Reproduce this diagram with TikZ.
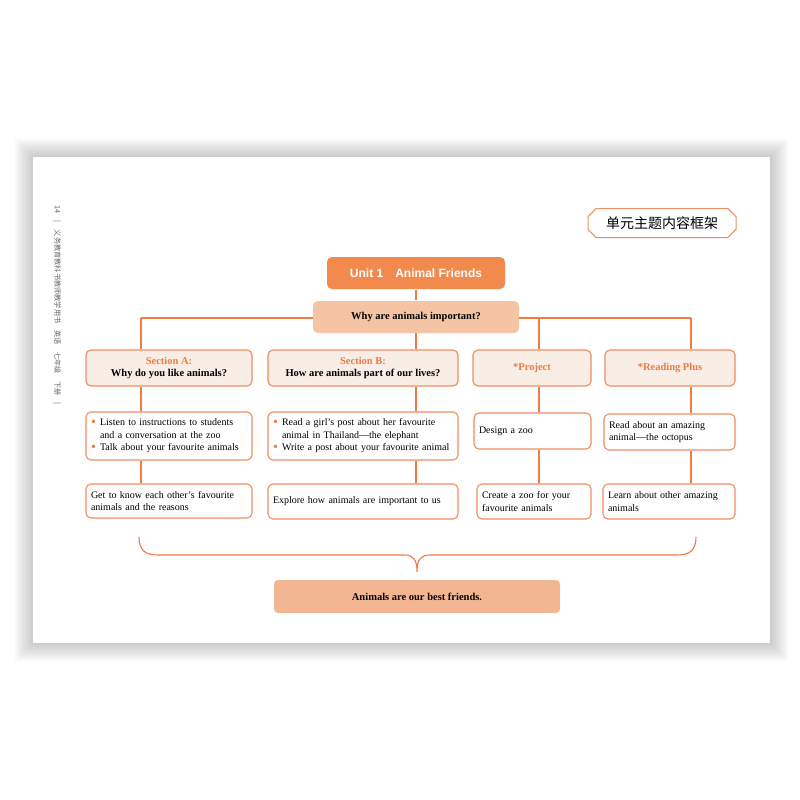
\documentclass[tikz,border=0pt]{standalone}
\usepackage{fontspec}
\setmainfont{Liberation Serif}
\newfontfamily\headfont{Liberation Sans}
\newfontfamily\zhfont{Noto Sans CJK SC}
\usepackage{xcolor}
\usetikzlibrary{shapes.misc, backgrounds, calc}

\definecolor{linec}{HTML}{EF7B45}
\definecolor{bordc}{HTML}{F08D5E}
\definecolor{unitfill}{HTML}{F28A4E}
\definecolor{whyfill}{HTML}{F5C4A5}
\definecolor{secfill}{HTML}{F8EEE6}
\definecolor{bestfill}{HTML}{F3B693}

\newcommand{\bul}{\makebox[9pt][l]{\textcolor{linec}{\raisebox{-0.7pt}{\fontsize{14}{0}\selectfont\textbullet}}}}
\newcommand{\ind}{\hspace*{9pt}}

\begin{document}
\begin{tikzpicture}[x=1pt, y=-1pt, line width=1.1pt,
    secbox/.style={draw=bordc, fill=secfill, rounded corners=5pt, minimum width=#1,
        minimum height=36pt, inner sep=0pt, align=center,
        font=\fontsize{10.5}{12.5}\selectfont\bfseries},
    itembox/.style={draw=bordc, fill=white, rounded corners=5pt, text width=#1,
        inner xsep=5pt, inner ysep=0pt, align=left,
        font=\fontsize{10}{12.5}\selectfont},
    link/.style={draw=linec, line width=1.1pt}]

    \useasboundingbox (0,0) rectangle (800,800);

    % running head
    \node[rotate=-90, anchor=west, text=black!60, inner sep=0pt] (running) at (57,205)
          {\zhfont\fontsize{7.2}{8}\selectfont 14\quad |\quad 义务教育教科书教师教学用书\quad 英语\quad 七年级\quad 下册\quad |};

    % title
    \node[chamfered rectangle, chamfered rectangle xsep=5pt, draw=bordc, line width=1pt,
          minimum width=148pt, minimum height=29pt, inner sep=0pt] (title) at (662,223)
          {\zhfont\fontsize{14}{16}\selectfont 单元主题内容框架};

    % ==========================================
    % Top boxes
    % ==========================================
    \node[fill=unitfill, rounded corners=5pt, minimum width=178pt, minimum height=32pt,
          text=white, font=\headfont\fontsize{12}{14}\selectfont\bfseries] (unit) at (416,273)
          {Unit 1\quad Animal Friends};
    \node[fill=whyfill, rounded corners=5pt, minimum width=206pt, minimum height=32pt,
          font=\fontsize{10.5}{12.5}\selectfont\bfseries] (why) at (416,317)
          {Why are animals important?};

    % ==========================================
    % Sections
    % ==========================================
    \node[secbox=166pt] (secA) at (169,368) {\textcolor{linec}{Section A:}\\ Why do you like animals?};
    \node[secbox=190pt] (secB) at (363,368) {\textcolor{linec}{Section B:}\\ How are animals part of our lives?};
    \node[secbox=118pt] (secP) at (532,368) {\textcolor{linec}{*Project}};
    \node[secbox=130pt] (secR) at (670,368) {\textcolor{linec}{*Reading Plus}};

    % first row
    \node[itembox=156pt, minimum height=48pt] (itemA1) at (169,436)
        {\bul Listen to instructions to students\\ \ind and a conversation at the zoo\\ \bul Talk about your favourite animals};
    \node[itembox=180pt, minimum height=48pt] (itemB1) at (363,436)
        {\bul Read a girl’s post about her favourite\\ \ind animal in Thailand—the elephant\\ \bul Write a post about your favourite animal};
    \node[itembox=107pt, minimum height=36pt] (itemP1) at (532.5,431) {Design a zoo};
    \node[itembox=121pt, minimum height=36pt] (itemR1) at (669.5,432)
        {Read about an amazing\\ animal—the octopus};

    % second row
    \node[itembox=156pt, minimum height=34pt] (itemA2) at (169,501)
        {Get to know each other’s favourite\\ animals and the reasons};
    \node[itembox=180pt, minimum height=35pt] (itemB2) at (363,501.5)
        {Explore how animals are important to us};
    \node[itembox=104pt, minimum height=35pt] (itemP2) at (534,501.5)
        {Create a zoo for your\\ favourite animals};
    \node[itembox=122pt, minimum height=35pt] (itemR2) at (669,501.5)
        {Learn about other amazing\\ animals};

    % conclusion
    \node[fill=bestfill, rounded corners=4pt, minimum width=286pt, minimum height=33pt,
          font=\fontsize{10.5}{12.5}\selectfont\bfseries] (best) at (417,596.5)
          {Animals are our best friends.};

    % ==========================================
    % Page, shadow and connectors (behind the boxes)
    % ==========================================
    \coordinate (jA) at (141,318);
    \coordinate (jB) at (416,318);
    \coordinate (jP) at (539,318);
    \coordinate (jR) at (691,318);

    \begin{pgfonlayer}{background}
        \foreach \i in {1,...,9} {
            \fill[black, opacity=0.025] (33-\i*2, 157-\i*2) rectangle (770+\i*2, 643+\i*2);
        }
        \fill[white] (33,157) rectangle (770,643);

        \draw[link] (jA) -- (jR);
        \draw[link] (unit.south) -- (why.north);
        \foreach \c in {A,B,P,R} {
            \draw[link] (j\c) -- (j\c |- sec\c.north);
            \draw[link] (j\c |- sec\c.south) -- (j\c |- item\c1.north);
            \draw[link] (j\c |- item\c1.south) -- (j\c |- item\c2.north);
        }
    \end{pgfonlayer}

    % brace
    \coordinate (braceL) at (139,537);
    \coordinate (braceR) at (696,537);
    \coordinate (braceTip) at (417,572);
    \draw[link] (braceL) .. controls (139,550) and (145,555) .. (158,555) -- (404,555)
        .. controls (413,555) and (417,559) .. (braceTip)
        .. controls (417,559) and (421,555) .. (430,555) -- (677,555)
        .. controls (690,555) and (696,550) .. (braceR);

\end{tikzpicture}
\end{document}
